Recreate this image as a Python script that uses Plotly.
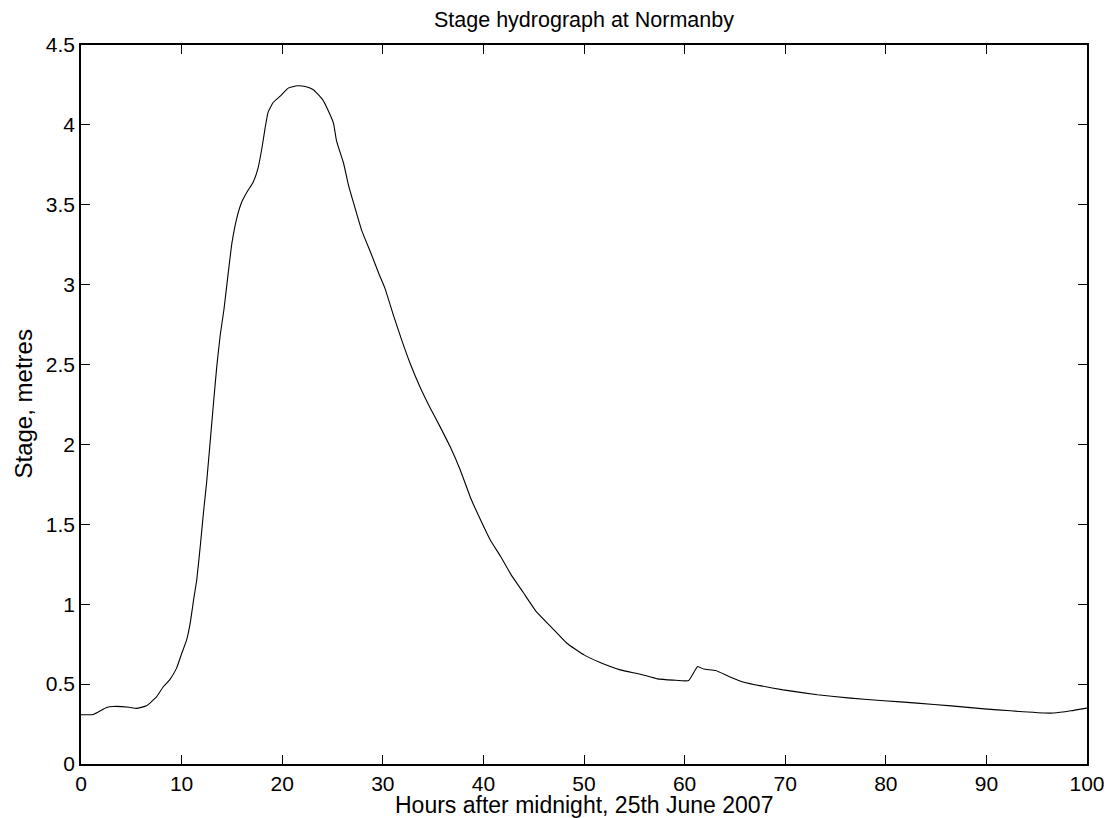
import plotly.graph_objects as go

hours = [0, 1.2, 2.55, 3.2, 4.8, 5.5, 6.5, 7.5, 8.2, 8.85, 9.5, 10.0, 10.5, 10.85, 11.2, 11.5,
         11.85, 12.2, 12.5, 13.2, 13.5, 13.85, 14.2, 14.5, 15.0, 15.5, 16.0, 16.5, 17.1, 17.6,
         18.0, 18.3, 18.6, 19.1, 19.8, 20.6, 21.5, 22.3, 23.1, 24.0, 24.5, 25.1, 25.4, 26.1,
         26.6, 27.1, 27.9, 28.8, 29.6, 30.2, 31.1, 31.9, 32.7, 33.7, 34.7, 35.7, 36.7, 37.7,
         38.7, 39.7, 40.7, 41.7, 42.7, 44.0, 45.3, 46.7, 48.3, 50.0, 51.6, 53.6, 55.6, 57.3,
         58.9, 60.4, 61.3, 61.9, 63.1, 64.4, 65.9, 67.6, 69.8, 73.2, 76.5, 79.8, 83.1, 86.5,
         89.8, 92.4, 94.1, 95.7, 96.7, 98.4, 100]
stage = [0.308, 0.31, 0.354, 0.36, 0.355, 0.348, 0.364, 0.42, 0.485, 0.53, 0.60, 0.69, 0.777,
         0.88, 1.03, 1.15, 1.36, 1.59, 1.77, 2.28, 2.49, 2.69, 2.84, 3.0, 3.26, 3.42, 3.52,
         3.58, 3.64, 3.73, 3.86, 3.98, 4.08, 4.14, 4.18, 4.23, 4.245, 4.24, 4.22, 4.16, 4.10,
         4.01, 3.90, 3.76, 3.62, 3.51, 3.34, 3.20, 3.07, 2.98, 2.80, 2.65, 2.51, 2.36, 2.23,
         2.11, 1.985, 1.84, 1.67, 1.53, 1.40, 1.30, 1.19, 1.07, 0.95, 0.86, 0.756, 0.683,
         0.635, 0.589, 0.562, 0.533, 0.525, 0.522, 0.61, 0.594, 0.585, 0.548, 0.512, 0.489,
         0.464, 0.433, 0.412, 0.396, 0.381, 0.364, 0.345, 0.333, 0.325, 0.319, 0.319, 0.333,
         0.35]

x_ticks = [0, 10, 20, 30, 40, 50, 60, 70, 80, 90, 100]
y_ticks = [0, 0.5, 1, 1.5, 2, 2.5, 3, 3.5, 4, 4.5]
y_labels = ["0", "0.5", "1", "1.5", "2", "2.5", "3", "3.5", "4", "4.5"]

title_text = "Stage hydrograph at Normanby"
x_title = "Hours after midnight, 25th June 2007"
y_title = "Stage, metres"

font_family = "Liberation Sans, Arial, Helvetica, sans-serif"

fig = go.Figure()
fig.add_trace(go.Scatter(x=hours, y=stage, mode="lines",
                         line=dict(color="black", width=1.1, shape="spline", smoothing=0.4),
                         showlegend=False, hoverinfo="x+y"))

axis_common = dict(
    showgrid=False, zeroline=False, showline=True, linecolor="black", linewidth=1.5,
    mirror="ticks", ticks="inside", ticklen=9, tickwidth=1, tickcolor="black",
    tickfont=dict(family=font_family, size=21, color="black"),
)

fig.update_layout(
    width=1108, height=810,
    paper_bgcolor="white", plot_bgcolor="white",
    margin=dict(l=73, r=29, t=37, b=54),
    font=dict(family=font_family, color="black"),
    xaxis=dict(range=[0, 100], tickvals=x_ticks, ticktext=[str(v) for v in x_ticks], **axis_common),
    yaxis=dict(range=[0, 4.5], tickvals=y_ticks, ticktext=y_labels, **axis_common),
    annotations=[
        dict(text=title_text, xref="paper", yref="paper", x=0.5, y=1, yshift=25,
             xanchor="center", yanchor="middle", showarrow=False,
             font=dict(family=font_family, size=21.5, color="black")),
        dict(text=x_title, xref="paper", yref="paper", x=0.5, y=0, yshift=-41,
             xanchor="center", yanchor="middle", showarrow=False, borderpad=0,
             font=dict(family=font_family, size=23, color="black")),
        dict(text=y_title, xref="paper", yref="paper", x=0, y=0.5, xshift=-58,
             xanchor="center", yanchor="middle", textangle=-90, showarrow=False,
             font=dict(family=font_family, size=24, color="black")),
    ],
)

fig.write_html("out.html")
